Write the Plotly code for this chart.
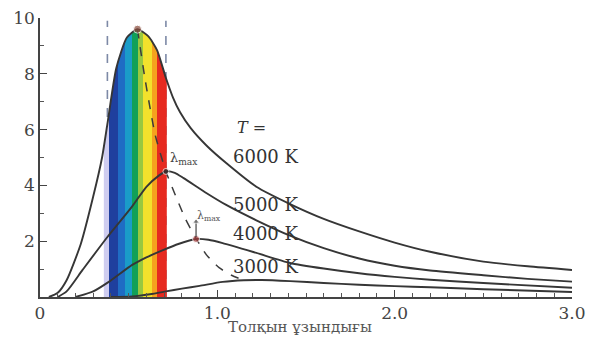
import numpy as np
import plotly.graph_objects as go

# ---- data ----
x6000 = [0.05, 0.10, 0.15, 0.23, 0.30, 0.35, 0.38, 0.43, 0.49, 0.55, 0.61, 0.66, 0.71, 0.75, 0.79, 0.85, 0.94, 1.05, 1.22, 1.41, 1.60, 1.80, 2.00, 2.20, 2.50, 2.75, 3.00]
y6000 = [0.0, 0.15, 0.6, 1.9, 3.6, 5.0, 6.2, 8.2, 9.3, 9.6, 9.35, 8.85, 7.85, 7.15, 6.62, 6.05, 5.42, 4.8, 3.95, 3.33, 2.8, 2.35, 1.95, 1.62, 1.27, 1.1, 0.97]

x5000 = [0.10, 0.15, 0.24, 0.38, 0.52, 0.60, 0.67, 0.71, 0.76, 0.81, 0.94, 1.05, 1.22, 1.41, 1.60, 1.80, 2.00, 2.20, 2.50, 2.75, 3.00]
y5000 = [0.0, 0.2, 0.97, 2.15, 3.25, 3.95, 4.35, 4.5, 4.45, 4.26, 3.72, 3.3, 2.75, 2.2, 1.75, 1.38, 1.12, 0.95, 0.78, 0.65, 0.55]

x4000 = [0.20, 0.30, 0.39, 0.52, 0.60, 0.69, 0.78, 0.88, 0.95, 1.03, 1.22, 1.41, 1.60, 1.80, 2.00, 2.20, 2.50, 3.00]
y4000 = [0.0, 0.2, 0.55, 1.15, 1.42, 1.67, 1.9, 2.08, 2.05, 1.93, 1.58, 1.22, 1.02, 0.85, 0.72, 0.62, 0.5, 0.33]

x3000 = [0.40, 0.52, 0.62, 0.71, 0.80, 0.90, 1.03, 1.15, 1.25, 1.41, 1.60, 1.80, 2.00, 2.20, 2.50, 3.00]
y3000 = [0.0, 0.02, 0.1, 0.2, 0.3, 0.4, 0.54, 0.6, 0.61, 0.57, 0.5, 0.44, 0.39, 0.35, 0.28, 0.18]

wien_x = [0.55, 0.59, 0.65, 0.71, 0.76, 0.82, 0.88, 0.94, 1.01, 1.08, 1.15]
wien_y = [9.6, 7.9, 5.8, 4.5, 3.7, 2.8, 2.1, 1.5, 1.05, 0.78, 0.6]

peak_x = [0.55, 0.71, 0.88]
peak_y = [9.6, 4.5, 2.08]
peak_colors = ["#8a4b3c", "#3a2a2a", "#a33a3a"]

band_edges = [0.36, 0.389, 0.44, 0.479, 0.518, 0.552, 0.58, 0.631, 0.659, 0.715]
band_colors = ["#cfcdf0", "#1f3f9e", "#1f6cc4", "#1a9cc8", "#11a058", "#98c840", "#f3e12c", "#f5a21e", "#e62a20"]

visible_lines = [0.38, 0.71]

temp_labels = ["6000 K", "5000 K", "4000 K", "3000 K"]
label_y = [5.02, 3.3, 2.29, 1.11]

ytick_vals = [2, 4, 6, 8, 10]
xtick_vals = [0, 1, 2, 3]
xtick_text = ["0", "1.0", "2.0", "3.0"]

arrow_x = [0.88, 0.88]
arrow_y = [2.15, 2.7]

CURVE = "#363636"
SERIF = "DejaVu Serif"

fig = go.Figure()

# dashed visible-range lines
for xv in visible_lines:
    fig.add_trace(go.Scatter(x=[xv, xv], y=[0, 9.9], mode="lines",
                             line=dict(color="#7d89a6", width=1.6, dash="dash"),
                             hoverinfo="skip", showlegend=False))

# spectrum fill under the 6000 K curve
x0, x1 = band_edges[0], band_edges[-1]
inner = [(x, y) for x, y in zip(x6000, y6000) if x0 < x < x1]
fx = [x0] + [p[0] for p in inner] + [x1]
fy = [float(np.interp(x0, x6000, y6000))] + [p[1] for p in inner] + [float(np.interp(x1, x6000, y6000))]
cs = []
for i, c in enumerate(band_colors):
    a = (band_edges[i] - x0) / (x1 - x0)
    b = (band_edges[i + 1] - x0) / (x1 - x0)
    cs.append([a, c])
    cs.append([b, c])
fig.add_trace(go.Scatter(x=fx, y=fy, mode="lines", line=dict(width=0, shape="spline", smoothing=0.6),
                         fill="tozeroy",
                         fillgradient=dict(type="horizontal", colorscale=cs, start=x0, stop=x1),
                         hoverinfo="skip", showlegend=False))

# Planck curves
for xs, ys in [(x6000, y6000), (x5000, y5000), (x4000, y4000), (x3000, y3000)]:
    fig.add_trace(go.Scatter(x=xs, y=ys, mode="lines",
                             line=dict(color=CURVE, width=1.9, shape="spline", smoothing=0.6),
                             hoverinfo="skip", showlegend=False))

# Wien displacement (dashed)
fig.add_trace(go.Scatter(x=wien_x, y=wien_y, mode="lines",
                         line=dict(color="#3c3c3c", width=1.5, dash="dash", shape="spline", smoothing=0.6),
                         hoverinfo="skip", showlegend=False))

fig.add_trace(go.Scatter(x=peak_x, y=peak_y, mode="markers",
                         marker=dict(color=peak_colors, size=[8, 6, 7]),
                         hoverinfo="skip", showlegend=False))

# small arrow at the 4000 K peak
fig.add_trace(go.Scatter(x=arrow_x, y=arrow_y, mode="lines+markers",
                         line=dict(color="#444", width=1.2),
                         marker=dict(symbol=["circle", "triangle-up"], size=[0, 6], color="#444"),
                         hoverinfo="skip", showlegend=False))

ann = []
ann.append(dict(x=1.10, y=6.06, text="<i>T</i> =", showarrow=False, xanchor="left", yanchor="middle",
                font=dict(family=SERIF, size=16, color="#333")))
for t, yv in zip(temp_labels, label_y):
    ann.append(dict(x=1.075, y=yv, text=t, showarrow=False, xanchor="left", yanchor="middle",
                    font=dict(family=SERIF, size=18, color="#333")))
ann.append(dict(x=0.72, y=4.98, text="λ<sub>max</sub>", showarrow=False, xanchor="left", yanchor="middle",
                font=dict(family=SERIF, size=13, color="#444")))
ann.append(dict(x=0.875, y=2.9, text="λ<sub>max</sub>", showarrow=False, xanchor="left", yanchor="middle",
                font=dict(family=SERIF, size=11, color="#555")))
ann.append(dict(x=1.465, y=-0.108, xref="x", yref="paper", text="Толқын ұзындығы", showarrow=False,
                xanchor="center", yanchor="middle", font=dict(family=SERIF, size=15, color="#555")))
fig.update_layout(annotations=ann)

fig.update_layout(
    width=591, height=340,
    margin=dict(l=40, r=19, t=18, b=43, autoexpand=False),
    paper_bgcolor="white", plot_bgcolor="white",
    xaxis=dict(range=[0, 3], showgrid=False, zeroline=False, showline=True, linecolor="#444", linewidth=1.6,
               ticks="inside", ticklen=7, tickwidth=1.3, tickcolor="#444", automargin=False,
               tickvals=xtick_vals, ticktext=xtick_text,
               tickfont=dict(family=SERIF, size=17, color="#444"),
               minor=dict(dtick=0.1, ticks="inside", ticklen=4, tickcolor="#555", tickwidth=1)),
    yaxis=dict(range=[0, 10], showgrid=False, zeroline=False, showline=True, linecolor="#444", linewidth=1.6,
               ticks="inside", ticklen=7, tickwidth=1.3, tickcolor="#444", automargin=False,
               tickvals=ytick_vals,
               tickfont=dict(family=SERIF, size=17, color="#444"),
               minor=dict(dtick=1, ticks="inside", ticklen=4, tickcolor="#555", tickwidth=1)),
)

fig.write_html("out.html", config={"displayModeBar": False},
               post_script="document.body.style.margin='0';document.body.style.overflow='hidden';")
